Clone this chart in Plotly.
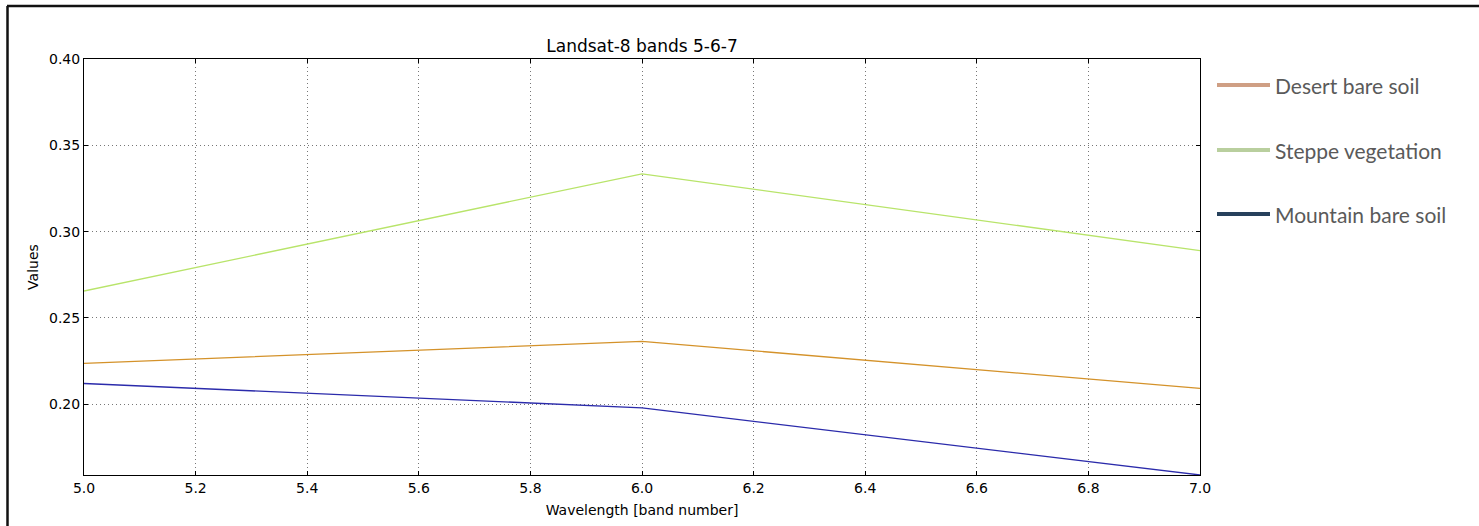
import plotly.graph_objects as go

bands = [5.0, 6.0, 7.0]
desert = [0.2237, 0.2364, 0.2092]
steppe = [0.2656, 0.3335, 0.2890]
mountain = [0.2120, 0.1979, 0.1590]

series_names = ["Desert bare soil", "Steppe vegetation", "Mountain bare soil"]
line_colors = ["#d4922a", "#b8e46a", "#2b2bab"]
legend_colors = ["#cf9f84", "#b9cf9e", "#27415c"]

x_ticks = [5.0, 5.2, 5.4, 5.6, 5.8, 6.0, 6.2, 6.4, 6.6, 6.8, 7.0]
y_ticks = [0.20, 0.25, 0.30, 0.35, 0.40]

W, H = 1479, 526
L, R, T, B = 84, 1200, 59, 475

fig = go.Figure()
for name, ys, c in zip(series_names, [desert, steppe, mountain], line_colors):
    fig.add_trace(go.Scatter(x=bands, y=ys, mode="lines", name=name,
                             line=dict(color=c, width=1.3), showlegend=False))

def px(x):
    return (x - L) / (R - L)

def py(y):
    return (B - y) / (B - T)

shapes = [
    dict(type="line", xref="paper", yref="paper", x0=px(7), x1=px(W + 5), y0=py(6), y1=py(6),
         line=dict(color="#111", width=2.5)),
    dict(type="line", xref="paper", yref="paper", x0=px(7.5), x1=px(7.5), y0=py(6), y1=py(H + 5),
         line=dict(color="#111", width=2.5)),
]
annotations = []
legend_y = [85, 150, 214]
for name, c, ly in zip(series_names, legend_colors, legend_y):
    shapes.append(dict(type="line", xref="paper", yref="paper", x0=px(1217), x1=px(1270),
                       y0=py(ly), y1=py(ly), line=dict(color=c, width=4)))
    annotations.append(dict(text=name, xref="paper", yref="paper", x=px(1273), y=py(ly),
                            xanchor="left", yanchor="middle", showarrow=False,
                            font=dict(family="Lato, sans-serif", size=21, color="#5a5a5a")))

fig.update_layout(
    width=W, height=H,
    margin=dict(l=L, r=W - R, t=T, b=H - B, pad=0),
    paper_bgcolor="white", plot_bgcolor="white",
    font=dict(family="DejaVu Sans", size=14, color="black"),
    title=dict(text="Landsat-8 bands 5-6-7", x=(L + R) / 2 / W, xanchor="center",
               y=1 - 46 / H, yanchor="middle", font=dict(size=17)),
    xaxis=dict(range=[5.0, 7.0], tickvals=x_ticks, ticktext=[f"{v:.1f}" for v in x_ticks],
               showgrid=True, gridcolor="#777", griddash="1px,3px", gridwidth=1,
               showline=True, linecolor="black", linewidth=1, mirror="ticks",
               ticks="inside", ticklen=4, tickcolor="black", zeroline=False,
               tickfont=dict(size=14), automargin=False,
               title=dict(text="Wavelength [band number]", standoff=10, font=dict(size=14))),
    yaxis=dict(range=[0.159, 0.40], tickvals=y_ticks, ticktext=[f"{v:.2f}" for v in y_ticks],
               showgrid=True, gridcolor="#777", griddash="1px,3px", gridwidth=1,
               showline=True, linecolor="black", linewidth=1, mirror="ticks",
               ticks="inside", ticklen=4, tickcolor="black", zeroline=False,
               tickfont=dict(size=14), automargin=False,
               title=dict(text="Values", standoff=7, font=dict(size=14))),
    shapes=shapes, annotations=annotations,
)

fig.write_html("out.html")
